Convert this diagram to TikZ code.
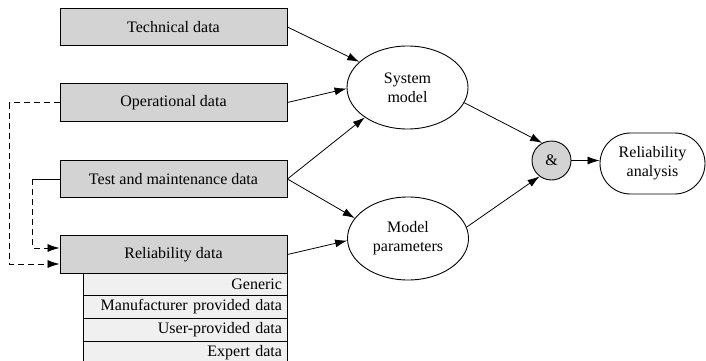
\documentclass[tikz,border=0pt]{standalone}
\usepackage{fontspec}
\setmainfont{Liberation Serif}
\usetikzlibrary{shapes.geometric,shapes.misc,arrows.meta}
\definecolor{boxgray}{HTML}{D3D3D3}
\definecolor{rowgray}{HTML}{F0F0F0}
\begin{document}
\begin{tikzpicture}[x=1pt,y=-1pt,
  every node/.style={font=\fontsize{16}{19}\selectfont},
  databox/.style={draw,line width=0.9pt,fill=boxgray,rectangle,minimum width=227pt,minimum height=37.5pt,inner sep=0pt},
  subrow/.style={draw,line width=0.9pt,fill=rowgray,rectangle,text width=194pt,inner xsep=5pt,inner ysep=0pt,align=right,minimum height=22.7pt},
  oval/.style={draw,line width=0.9pt,ellipse,minimum width=121pt,minimum height=83pt,inner sep=0pt,align=center},
  tip/.style={-{Latex[length=12pt,width=8pt]}},
  arr/.style={line width=0.8pt,tip},
  dsh/.style={line width=0.8pt,dash pattern=on 6pt off 4pt}]
\useasboundingbox (0,0) rectangle (706,361);
\node[databox] (tech) at (173.5,27) {Technical data};
\node[databox] (op) at (173.5,102.5) {Operational data};
\node[databox] (test) at (173.5,179) {Test and maintenance data};
\node[databox] (rel) at (173.5,254.5) {Reliability data};
\node[subrow] (r1) at (185,284.35) {Generic};
\node[subrow] (r2) at (185,307.05) {Manufacturer provided data};
\node[subrow] (r3) at (185,329.75) {User-provided data};
\node[subrow] (r4) at (185,352.45) {Expert data};
\node[oval] (sys) at (407.5,87.5) {System\\model};
\node[oval] (par) at (408,238.5) {Model\\parameters};
\node[draw,line width=0.9pt,circle,fill=boxgray,minimum size=39pt,inner sep=0pt] (amp) at (551.5,160.5) {\&};
\node[draw,line width=0.9pt,rounded rectangle,minimum width=105pt,minimum height=61pt,inner sep=0pt,align=center] (ra) at (652.5,163.5) {Reliability\\analysis};
\draw[arr] (tech.east) -- (sys.152);
\draw[arr] (op.east) -- (sys.181);
\draw[arr] (test.east) -- (sys.215);
\draw[arr] (test.east) -- (par.159);
\draw[arr] (rel.east) -- (par.182);
\draw[arr] (sys.-15) -- (amp.118);
\draw[arr] (par.11) -- (amp.233);
\draw[arr] (amp.east) -- (amp.east -| ra.west);
\draw[line width=0.8pt] (test.west) -- ++(-27,0) coordinate (tc);
\draw[dsh,tip] (tc) |- ([yshift=6.5pt]rel.west);
\draw[dsh,tip] (op.west) -- ++(-50,0) |- ([yshift=-9.5pt]rel.west);
\end{tikzpicture}
\end{document}
